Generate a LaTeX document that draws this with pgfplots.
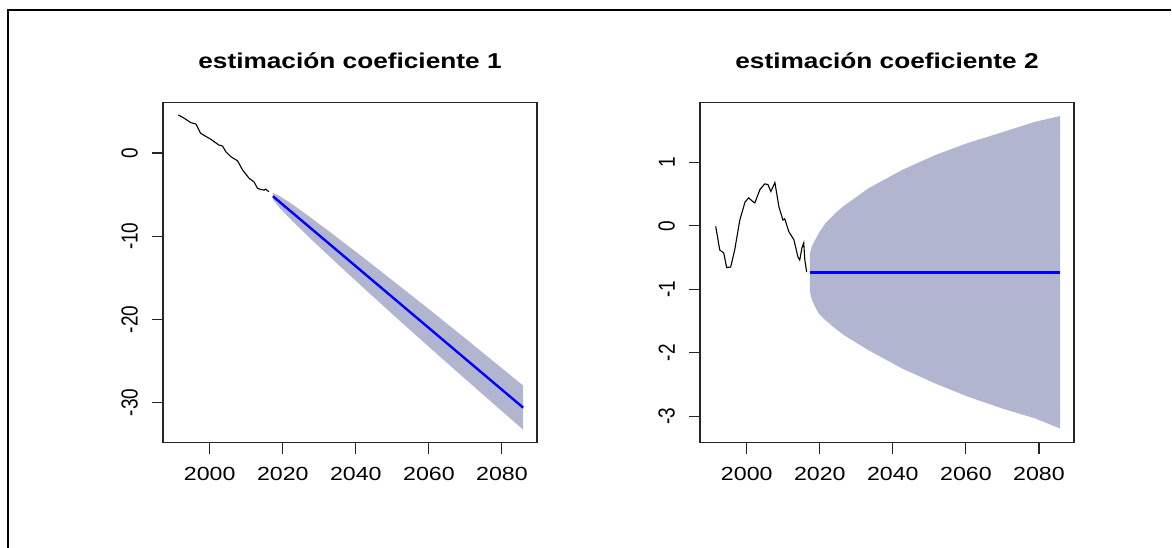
\documentclass[border=0pt]{standalone}
\usepackage{fontspec}
\setmainfont{Liberation Sans}
\usepackage{graphicx}
\usepackage{pgfplots}
\pgfplotsset{compat=1.18}
\definecolor{band}{RGB}{178,181,207}
\newcommand{\sx}[1]{\scalebox{1.22}[1]{#1}}
\newcommand{\sy}[1]{\scalebox{1.22}[1]{\rotatebox{90}{#1}}}
\pgfplotsset{myax/.style={
  scale only axis, width=374bp, height=340bp,
  xmin=1987.2, xmax=2089.6,
  axis line style={line width=1.1bp, color=black!85},
  every tick/.style={line width=1.1bp, color=black!85},
  tick align=outside, major tick length=11bp,
  xtick pos=bottom, ytick pos=left,
  xtick={2000,2020,2040,2060,2080},
  xticklabels={\sx{2000},\sx{2020},\sx{2040},\sx{2060},\sx{2080}},
  tick label style={font=\fontsize{19bp}{21bp}\selectfont, inner sep=0pt},
  xticklabel style={anchor=north, yshift=-13bp},
  yticklabel style={anchor=east, xshift=-14bp},
  title style={at={(axis description cs:0.5,1)}, anchor=base, yshift=28.5bp,
    font=\fontsize{21.5bp}{24bp}\selectfont\bfseries, inner sep=0pt},
}}
\begin{document}
\begin{tikzpicture}[x=1bp,y=1bp]
\path[use as bounding box] (0,0) rectangle (1172,-548);
\draw[line width=2.5bp] (8,-548) -- (8,-10) -- (1170.5,-10);

\begin{axis}[myax, at={(163bp,-442.7bp)}, anchor=south west,
  ymin=-34.83, ymax=6.05,
  ytick={-30,-20,-10,0},
  yticklabels={\sy{-30},\sy{-20},\sy{-10},\sy{0}},
  title={\sx{estimación coeficiente 1}}]
\addplot[fill=band, draw=none] coordinates {
 (2017.3,-4.80) (2018.7,-5.07) (2021.5,-5.84) (2024.2,-6.66) (2028.8,-8.14)
 (2033.3,-9.62) (2042.5,-12.72) (2051.6,-15.86) (2060.7,-19.02) (2069.9,-22.27)
 (2079.0,-25.52) (2085.8,-27.96)
 (2085.8,-33.26) (2079.0,-30.66) (2069.9,-27.15) (2060.7,-23.58) (2051.6,-20.00)
 (2042.5,-16.38) (2033.3,-12.66) (2028.8,-10.80) (2024.2,-8.86) (2021.5,-7.68)
 (2018.7,-6.37) (2017.3,-5.60)} -- cycle;
\addplot[black, line width=1.1bp] coordinates {
 (1991.4,4.58) (1993.0,4.18) (1994.8,3.65) (1996.2,3.49) (1997.5,2.37)
 (2000.3,1.65) (2002.5,0.96) (2003.5,0.84) (2004.4,0.16) (2005.8,-0.45)
 (2007.6,-0.93) (2009.0,-2.05) (2010.8,-3.05) (2012.1,-3.46) (2013.1,-4.26)
 (2014.0,-4.39) (2014.9,-4.46) (2015.3,-4.34) (2016.2,-4.66)};
\addplot[blue, line width=2.4bp] coordinates {
 (2017.3,-5.2) (2030,-9.91) (2040,-13.62) (2050,-17.33) (2060,-21.04)
 (2070,-24.75) (2085.8,-30.61)};
\end{axis}

\begin{axis}[myax, at={(700bp,-442.7bp)}, anchor=south west,
  ymin=-3.42, ymax=1.94,
  ytick={-3,-2,-1,0,1},
  yticklabels={\sy{-3},\sy{-2},\sy{-1},\sy{0},\sy{1}},
  title={\sx{estimación coeficiente 2}}]
\addplot[fill=band, draw=none] coordinates {
 (2017.3,-0.435) (2017.8,-0.33) (2018.7,-0.226) (2019.8,-0.11) (2021.5,0.038)
 (2023.0,0.125) (2024.2,0.196) (2026.5,0.31) (2028.8,0.405)
 (2033.3,0.590) (2042.5,0.879) (2051.6,1.115) (2060.7,1.309) (2069.9,1.473)
 (2079.0,1.640) (2085.8,1.730)
 (2085.8,-3.196) (2079.0,-3.038) (2069.9,-2.880) (2060.7,-2.697) (2051.6,-2.486)
 (2042.5,-2.249) (2033.3,-1.961) (2028.8,-1.803) (2026.5,-1.72) (2024.2,-1.618)
 (2023.0,-1.56) (2021.5,-1.487) (2019.8,-1.39) (2018.7,-1.278) (2017.8,-1.16)
 (2017.3,-1.041)} -- cycle;
\addplot[black, line width=1.1bp] coordinates {
 (1991.5,-0.01) (1992.6,-0.38) (1993.7,-0.43) (1994.5,-0.66) (1995.6,-0.65)
 (1996.7,-0.38) (1998.1,0.09) (1999.5,0.37) (2000.5,0.44) (2001.9,0.37)
 (2002.2,0.36) (2003.6,0.57) (2004.9,0.66) (2005.8,0.65) (2006.6,0.54)
 (2007.7,0.68) (2008.8,0.30) (2009.9,0.09) (2010.4,0.11) (2011.5,-0.09)
 (2012.9,-0.22) (2014.0,-0.49) (2014.5,-0.54) (2015.1,-0.35) (2015.6,-0.27)
 (2015.9,-0.54) (2016.4,-0.73)};
\addplot[blue, line width=2.4bp] coordinates {(2017.3,-0.735) (2085.8,-0.735)};
\end{axis}
\end{tikzpicture}
\end{document}
